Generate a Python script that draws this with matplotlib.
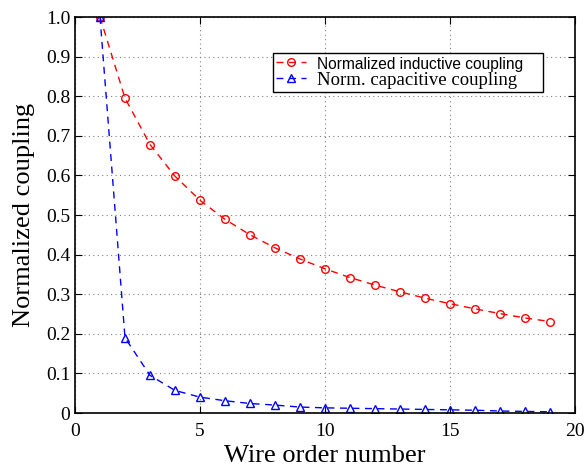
import numpy as np
import matplotlib
matplotlib.use('Agg')
import matplotlib.pyplot as plt

wire = np.arange(1, 20)
inductive = [1.0, 0.795, 0.678, 0.598, 0.537, 0.489, 0.450, 0.417, 0.389, 0.364,
             0.342, 0.323, 0.306, 0.290, 0.276, 0.263, 0.251, 0.240, 0.231]
capacitive = [1.0, 0.190, 0.095, 0.057, 0.040, 0.031, 0.024, 0.020, 0.015, 0.013,
              0.012, 0.011, 0.010, 0.009, 0.008, 0.007, 0.005, 0.004, 0.003]

xticks = [0, 5, 10, 15, 20]
yticks = np.round(np.arange(0, 1.01, 0.1), 1)

plt.rcParams['font.family'] = 'Liberation Serif'
fig = plt.figure(figsize=(5.87, 4.68), dpi=100)
ax = fig.add_axes([75/587, 1 - 413/468, 500/587, 396/468])

ax.plot(wire, inductive, 'r--o', mfc='none', ms=5.5, lw=1, mew=1,
        dashes=(5, 4), label='Normalized inductive coupling')
ax.plot(wire, capacitive, 'b--^', mfc='none', ms=5.5, lw=1, mew=1,
        dashes=(5, 4), label='Norm. capacitive coupling')

ax.set_xlim(0, 20)
ax.set_ylim(0, 1)
ax.set_xticks(xticks)
ax.set_yticks(yticks)
ax.set_yticklabels([str(t) if t not in (0, 1) else ('0' if t == 0 else '1.0') for t in yticks])
ax.tick_params(direction='in', top=True, right=True, labelsize=14, length=5, width=0.8)
ax.tick_params(axis='x', pad=7)
ax.grid(True, linestyle=(0, (1, 3)), color='gray', lw=0.8)
for s in ax.spines.values():
    s.set_linewidth(1.2)

ax.set_xlabel('Wire order number', fontsize=19, labelpad=4)
ax.set_ylabel('Normalized coupling', fontsize=19, labelpad=8)

leg = ax.legend(loc='upper left', bbox_to_anchor=(198/500, 1 - 136/396, 270/500, 100/396),
                mode='expand', fontsize=13.5,
                borderaxespad=0, fancybox=False, edgecolor='black', framealpha=1,
                borderpad=0.15, labelspacing=0.0, handlelength=1.6, handletextpad=0.6)
leg.get_frame().set_linewidth(1.0)
leg.get_texts()[0].set_family('Liberation Sans')
leg.get_texts()[0].set_fontsize(11.2)

fig.savefig('out.png', dpi=100)
